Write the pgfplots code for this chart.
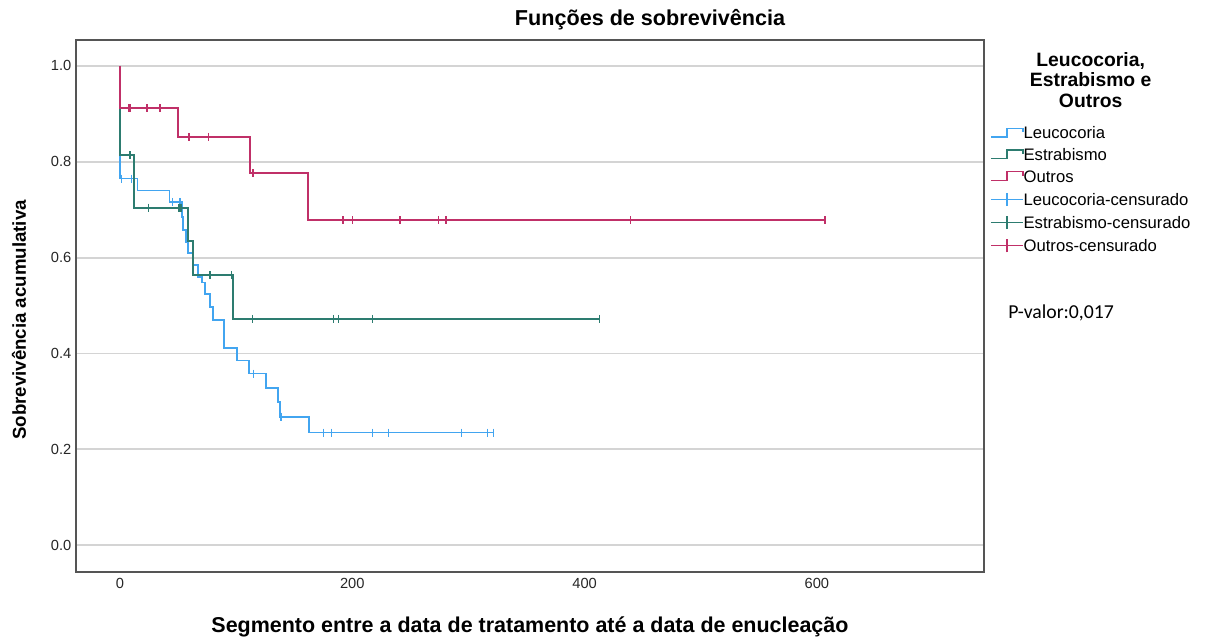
\documentclass[border=0pt]{standalone}
\usepackage{pgfplots}
\pgfplotsset{compat=1.18}
\usepackage{fontspec}
\setmainfont{Liberation Sans}
\newfontfamily\calibri{Carlito}

\definecolor{leuco}{RGB}{66,165,240}
\definecolor{estra}{RGB}{45,124,112}
\definecolor{outros}{RGB}{192,48,104}
\definecolor{gridc}{RGB}{212,212,212}
\definecolor{framec}{RGB}{85,85,85}

% Kaplan-Meier step curves (time, cumulative survival)
\pgfplotstableread{
x y
0 1.000
0 0.765
15.0 0.740
42.5 0.716
53.1 0.685
54.5 0.658
56.8 0.633
58.8 0.610
62.8 0.585
67.4 0.560
70.3 0.548
73.2 0.524
77.5 0.497
80.3 0.470
89.5 0.412
100.5 0.385
111.3 0.358
125.4 0.328
136.3 0.299
137.8 0.268
162.7 0.235
321.4 0.235
}\leucotab

\pgfplotstableread{
x y
0 1.000
0 0.814
12.3 0.704
58.8 0.635
63.1 0.564
97.0 0.472
413.0 0.472
}\estratab

\pgfplotstableread{
x y
0 1.000
0 0.912
50.0 0.852
112.2 0.776
161.6 0.678
607.0 0.678
}\outrostab

% censored observations
\pgfplotstableread{
x y
1.5 0.765
10.0 0.765
45.0 0.716
51.6 0.716
114.8 0.358
138.6 0.268
175.0 0.235
182.3 0.235
217.6 0.235
231.0 0.235
294.2 0.235
316.6 0.235
321.4 0.235
}\leucocens

\pgfplotstableread{
x y
8.6 0.814
24.4 0.704
50.8 0.704
52.5 0.704
77.5 0.564
96.1 0.564
114.0 0.472
183.7 0.472
188.0 0.472
217.5 0.472
413.0 0.472
}\estracens

\pgfplotstableread{
x y
7.5 0.912
8.6 0.912
23.2 0.912
34.4 0.912
58.8 0.852
60.0 0.852
76.0 0.852
114.5 0.776
192.0 0.678
200.3 0.678
241.0 0.678
274.3 0.678
280.7 0.678
439.5 0.678
607.0 0.678
}\outroscens

\begin{document}
\begin{tikzpicture}
\path[use as bounding box] (-57pt,-49.5pt) rectangle (849pt,429pt);
\begin{axis}[
  at={(0,0)}, anchor=south west,
  scale only axis, width=681pt, height=399pt,
  xmin=-37.9, xmax=743.9, ymin=-0.056, ymax=1.054,
  xtick={0,200,400,600},
  ytick={0,0.2,0.4,0.6,0.8,1.0},
  major tick length=0pt,
  ymajorgrids,
  grid style={gridc, line width=1.4pt},
  axis line style={framec, line width=1pt},
  ticklabel style={font=\fontsize{11}{13}\selectfont, text=black!85},
  /pgf/number format/assume math mode=true,
  yticklabel style={/pgf/number format/.cd, fixed, fixed zerofill, precision=1},
  xticklabel style={/pgf/number format/.cd, fixed, precision=0},
  xticklabel shift=1pt,
  legend style={at={(1.0022,0.842)}, anchor=north west, draw=none, fill=none,
    font=\fontsize{12.5}{14}\selectfont,
    nodes={text height=9pt, text depth=3pt, inner sep=0pt},
    row sep=4.3pt,
    /tikz/every even column/.append style={column sep=2pt}},
  legend cell align=left,
]
\addplot[const plot, leuco, line width=1.3pt,
  legend image code/.code={\draw[leuco, line width=1pt] (0pt,-1.5pt) -- (12pt,-1.5pt) -- (12pt,5pt) -- (24pt,5pt) -- (24pt,2pt);}]
  table {\leucotab};
\addlegendentry{Leucocoria}
\addplot[const plot, estra, line width=1.3pt,
  legend image code/.code={\draw[estra, line width=1pt] (0pt,-1.5pt) -- (12pt,-1.5pt) -- (12pt,5pt) -- (24pt,5pt) -- (24pt,2pt);}]
  table {\estratab};
\addlegendentry{Estrabismo}
\addplot[const plot, outros, line width=1.3pt,
  legend image code/.code={\draw[outros, line width=1pt] (0pt,-1.5pt) -- (12pt,-1.5pt) -- (12pt,5pt) -- (24pt,5pt) -- (24pt,2pt);}]
  table {\outrostab};
\addlegendentry{Outros}

\addplot[only marks, mark=|, mark size=3pt, mark options={leuco, line width=1.1pt},
  legend image code/.code={\draw[leuco, line width=1pt] (0pt,1.5pt) -- (24pt,1.5pt) (12pt,-3.5pt) -- (12pt,6.5pt);}]
  table {\leucocens};
\addlegendentry{Leucocoria-censurado}
\addplot[only marks, mark=|, mark size=3pt, mark options={estra, line width=1.1pt},
  legend image code/.code={\draw[estra, line width=1pt] (0pt,1.5pt) -- (24pt,1.5pt) (12pt,-3.5pt) -- (12pt,6.5pt);}]
  table {\estracens};
\addlegendentry{Estrabismo-censurado}
\addplot[only marks, mark=|, mark size=3pt, mark options={outros, line width=1.1pt},
  legend image code/.code={\draw[outros, line width=1pt] (0pt,1.5pt) -- (24pt,1.5pt) (12pt,-3.5pt) -- (12pt,6.5pt);}]
  table {\outroscens};
\addlegendentry{Outros-censurado}
\end{axis}

% titles and annotations
\node[font=\bfseries\fontsize{16.2}{18}\selectfont] at (430.5pt,414pt) {Funções de sobrevivência};
\node[font=\bfseries\fontsize{14.5}{15.5}\selectfont, align=center] at (761pt,369pt)
  {Leucocoria,\\Estrabismo e\\Outros};
\node[font=\calibri\fontsize{14.8}{16}\selectfont, anchor=west, inner sep=0pt] at (699pt,194pt) {P-valor:0,017};
\node[font=\bfseries\fontsize{16.1}{18}\selectfont] at (340.5pt,-41pt)
  {Segmento entre a data de tratamento até a data de enucleação};
\node[font=\bfseries\fontsize{14}{16}\selectfont, rotate=90] at (-42.75pt,189pt) {Sobrevivência acumulativa};
\end{tikzpicture}
\end{document}
